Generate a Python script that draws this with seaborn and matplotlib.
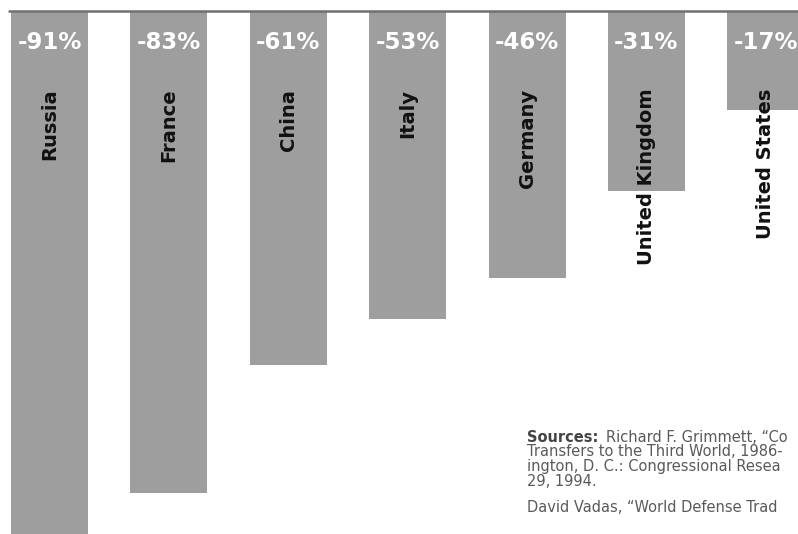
import matplotlib
matplotlib.use("Agg")
import matplotlib.pyplot as plt
import seaborn as sns
import pandas as pd

countries = ["Russia", "France", "China", "Italy", "Germany", "United Kingdom", "United States"]
changes = [-91, -83, -61, -53, -46, -31, -17]
pct_labels = ["-91%", "-83%", "-61%", "-53%", "-46%", "-31%", "-17%"]

source_lines = [
    "Richard F. Grimmett, \u201cCo",
    "Transfers to the Third World, 1986-",
    "ington, D. C.: Congressional Resea",
    "29, 1994.",
]
source2 = "David Vadas, \u201cWorld Defense Trad"

sns.set_theme(style="white")
plt.rcParams['font.family'] = ['DejaVu Sans']

df = pd.DataFrame({"country": countries, "change": changes})

W, H = 798, 534
fig = plt.figure(figsize=(W / 100, H / 100), dpi=100)
ax = fig.add_axes([0, 0, 1, 523 / 534])

sns.barplot(data=df, x="country", y="change", color="#9e9e9e", saturation=1,
            width=0.645, ax=ax, edgecolor="none")

ax.set_xlim(-0.415, 6.27)
ax.set_ylim(-90, 0)
for s in ax.spines.values():
    s.set_visible(False)
ax.set_xticks([])
ax.set_yticks([])
ax.set_xlabel("")
ax.set_ylabel("")

ax.axhline(0, xmin=9 / 798, xmax=1, color="#707070", lw=1.8, clip_on=False, zorder=5)

for i, (c, lab) in enumerate(zip(countries, pct_labels)):
    ax.text(i, -5.5, lab, color="white", fontsize=16.5, fontweight="bold",
            ha="center", va="center")
    ax.text(i, -13.4, c, color="#111111", fontsize=14, fontweight="bold",
            rotation=90, ha="center", va="top")

x0 = 527 / W
fs = 10.5
y = 1 - 437 / H
fig.text(x0, y, "Sources:", fontsize=fs, fontweight="bold", color="#444444", va="center")
fig.text(x0 + 79 / W, y, source_lines[0], fontsize=fs, color="#5a5a5a", va="center")
for k, line in enumerate(source_lines[1:], start=1):
    fig.text(x0, 1 - (437 + 15 * k) / H, line, fontsize=fs, color="#5a5a5a", va="center")
fig.text(x0, 1 - 507 / H, source2, fontsize=fs, color="#5a5a5a", va="center")

fig.savefig("out.png", dpi=100)
